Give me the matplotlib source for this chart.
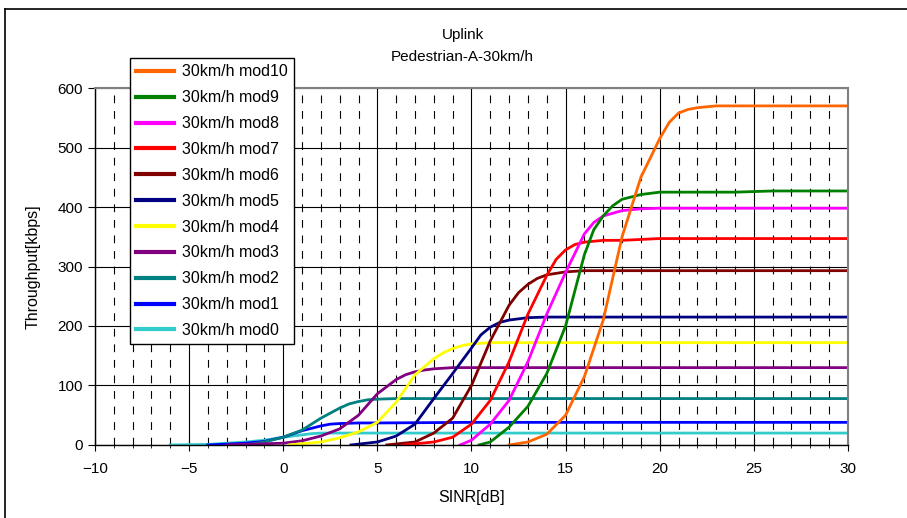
import matplotlib.pyplot as plt
from matplotlib.lines import Line2D
from matplotlib.ticker import MultipleLocator

# SINR [dB] and throughput [kbps] per modulation curve
mod0_x = [-6, -4, -3, -2, -1, 0, 1, 1.5, 2, 3, 30]
mod0_y = [0, 1, 3, 5, 8, 13, 17, 19, 20, 20, 20]
mod1_x = [-4, -2, -1, 0, 1, 2, 2.5, 3, 4, 5, 10, 30]
mod1_y = [0, 3, 6, 13, 24, 32, 35, 36, 37, 37, 38, 38]
mod2_x = [-2, -1, 0, 1, 2, 3, 3.5, 4, 4.5, 5, 6, 30]
mod2_y = [0, 5, 13, 25, 45, 62, 69, 73, 76, 77, 78, 78]
mod3_x = [-3, 0, 1, 2, 3, 4, 5, 6, 6.5, 7, 7.5, 8, 9, 30]
mod3_y = [0, 3, 7, 15, 27, 50, 86, 110, 118, 123, 126, 128, 130, 130]
mod4_x = [0.3, 2, 3, 4, 5, 6, 7, 8, 8.5, 9, 9.5, 10, 11, 30]
mod4_y = [0, 5, 12, 22, 38, 72, 118, 145, 155, 162, 167, 170, 172, 172]
mod5_x = [3.6, 5, 6, 7, 8, 9, 10, 10.5, 11, 11.5, 12, 13, 14, 30]
mod5_y = [0, 5, 15, 35, 78, 120, 163, 185, 198, 206, 210, 214, 215, 215]
mod6_x = [5.5, 7, 8, 9, 10, 11, 12, 12.5, 13, 13.5, 14, 15, 16, 30]
mod6_y = [0, 5, 20, 45, 100, 175, 235, 256, 270, 280, 286, 291, 293, 293]
mod7_x = [6.4, 8, 9, 10, 11, 12, 13, 14, 14.5, 15, 15.5, 16, 17, 18, 20, 30]
mod7_y = [0, 5, 13, 35, 75, 140, 220, 285, 312, 328, 337, 341, 344, 344, 347, 347]
mod8_x = [9.4, 10, 11, 12, 13, 14, 15, 16, 16.5, 17, 18, 19, 20, 30]
mod8_y = [0, 8, 35, 75, 140, 220, 290, 355, 374, 385, 394, 397, 398, 398]
mod9_x = [10.4, 11, 12, 13, 14, 15, 16, 16.5, 17, 17.5, 18, 19, 20, 24, 26, 30]
mod9_y = [0, 5, 30, 65, 120, 200, 320, 362, 385, 402, 413, 421, 425, 425, 427, 427]
mod10_x = [12, 13, 14, 15, 16, 17, 18, 19, 20, 20.5, 21, 21.5, 22, 23, 30]
mod10_y = [0, 5, 18, 50, 115, 210, 350, 450, 515, 542, 558, 564, 567, 570, 570]

labels = ['30km/h mod10', '30km/h mod9', '30km/h mod8', '30km/h mod7',
          '30km/h mod6', '30km/h mod5', '30km/h mod4', '30km/h mod3',
          '30km/h mod2', '30km/h mod1', '30km/h mod0']
series = [(mod10_x, mod10_y), (mod9_x, mod9_y), (mod8_x, mod8_y),
          (mod7_x, mod7_y), (mod6_x, mod6_y), (mod5_x, mod5_y),
          (mod4_x, mod4_y), (mod3_x, mod3_y), (mod2_x, mod2_y),
          (mod1_x, mod1_y), (mod0_x, mod0_y)]
colors = ['#FF6600', '#008000', '#FF00FF', '#FF0000', '#800000', '#000080',
          '#FFFF00', '#800080', '#008080', '#0000FF', '#33CCCC']

plt.rcParams['font.family'] = ['Liberation Sans', 'DejaVu Sans']

fig = plt.figure(figsize=(9.07, 5.18), dpi=100)
ax = fig.add_axes([0.1047, 0.141, 0.8302, 0.689])

# grid: solid major, dashed minor verticals
ax.xaxis.set_major_locator(MultipleLocator(5))
ax.xaxis.set_minor_locator(MultipleLocator(1))
ax.yaxis.set_major_locator(MultipleLocator(100))
ax.grid(which='major', axis='both', color='black', lw=0.8, ls='-')
ax.grid(which='minor', axis='x', color='black', lw=0.8, ls=(0, (7, 7)))
ax.set_axisbelow(True)

# draw in reverse so mod10 lands on top
for (x, y), c, lab in reversed(list(zip(series, colors, labels))):
    ax.plot(x, y, color=c, lw=2, label=lab, solid_joinstyle='round')

ax.set_xlim(-10, 30)
ax.set_ylim(0, 600)
ax.tick_params(axis='both', labelsize=11, colors='black')
ax.tick_params(axis='x', which='major', direction='inout', length=8, pad=8)
ax.tick_params(axis='x', which='minor', direction='inout', length=5)
ax.tick_params(axis='y', direction='out', length=5)
for s in ['top', 'right']:
    ax.spines[s].set_color('#808080')
    ax.spines[s].set_linewidth(1.5)
ax.spines['left'].set_linewidth(1)
ax.spines['bottom'].set_linewidth(1)

ax.set_xlabel('SINR[dB]', fontsize=11.5, labelpad=10)
ax.set_ylabel('Throughput[kbps]', fontsize=11.5, labelpad=12)

handles, labs = ax.get_legend_handles_labels()
order = list(reversed(range(len(handles))))
leg = fig.legend([handles[i] for i in order], [labs[i] for i in order],
                 loc='upper left', bbox_to_anchor=(0.143, 0.888),
                 fontsize=11.5, handlelength=2.4, labelspacing=0.68,
                 fancybox=False, framealpha=1, edgecolor='black',
                 borderpad=0.4, handletextpad=0.45, borderaxespad=0)
leg.get_frame().set_linewidth(1)
for h in leg.get_lines():
    h.set_linewidth(3)

fig.text(0.51, 0.932, 'Uplink', ha='center', va='center', fontsize=11)
fig.text(0.51, 0.890, 'Pedestrian-A-30km/h', ha='center', va='center', fontsize=11)

# outer chart frame (left and top edges visible)
fig.add_artist(Line2D([0.0055, 0.0055], [0, 0.983], color='black', lw=1.2))
fig.add_artist(Line2D([0.0055, 1], [0.983, 0.983], color='black', lw=1.2))

fig.savefig('out.png', dpi=100)
